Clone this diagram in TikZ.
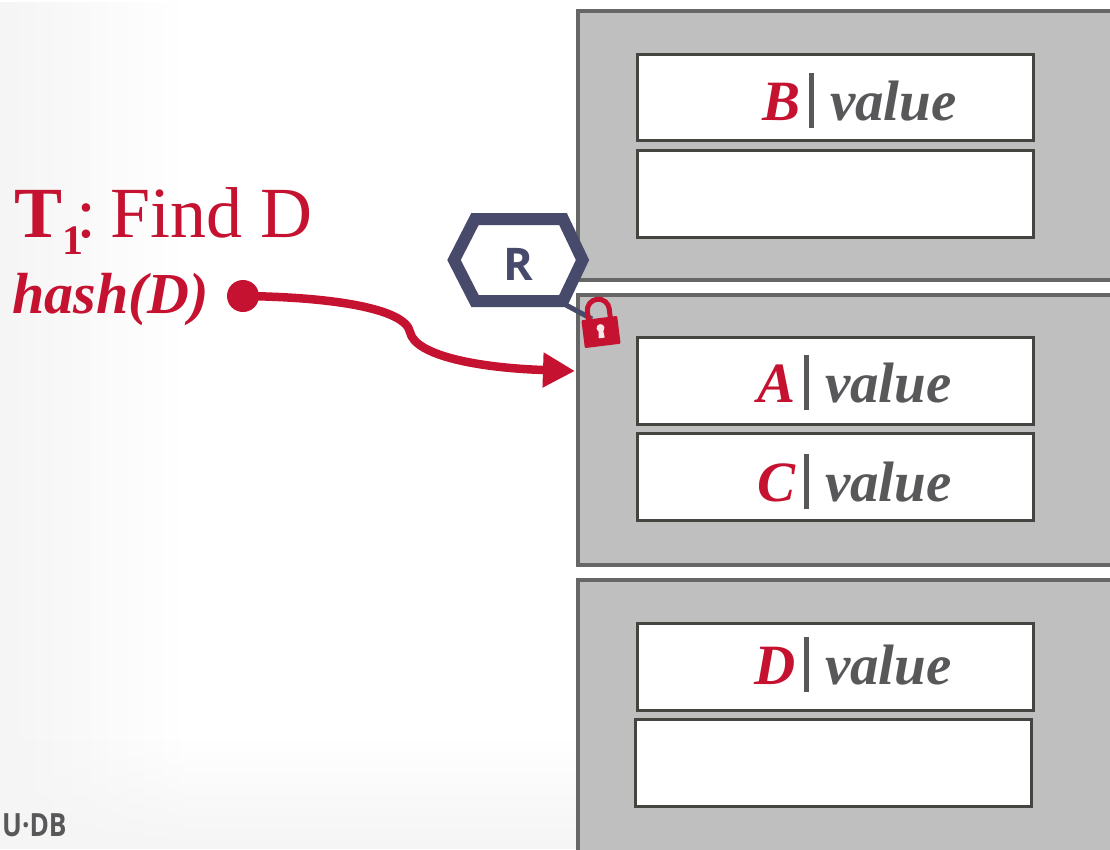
\documentclass[tikz,border=0pt]{standalone}
\usepackage{fontspec}
\setmainfont{Liberation Serif}
\newfontfamily\uifont{Open Sans}
\usetikzlibrary{arrows.meta,fadings}
\definecolor{cmured}{HTML}{C41230}
\definecolor{navy}{HTML}{474A6B}
\definecolor{txtgrey}{HTML}{58585A}
\definecolor{pagefill}{HTML}{BFBFBF}
\definecolor{pageline}{HTML}{666666}
\definecolor{slotline}{HTML}{444440}
\definecolor{bgtint}{HTML}{F5F5F5}
\newcommand{\kvtext}[1]{{\color{cmured}#1}\hspace{9pt}{\color{txtgrey}\rule[-8pt]{5pt}{55pt}\hspace{16pt}value}}
\tikzset{
  pagebox/.style={draw=pageline,line width=4pt,fill=pagefill},
  slotbox/.style={draw=slotline,line width=3pt,fill=white},
  kvlabel/.style={anchor=base east,inner sep=0pt,font=\fontsize{57}{60}\selectfont\bfseries\itshape},
  hexline/.style={draw=navy,line width=12pt,line join=miter,fill=white},
  redtext/.style={text=cmured,inner sep=0pt},
}
\begin{document}
\begin{tikzpicture}[x=1pt,y=-1pt]
\useasboundingbox (0,0) rectangle (1110,849);
\clip (0,0) rectangle (1110,849);
% background
\fill[white] (0,0) rectangle (1110,849);
\fill[bgtint,path fading=east] (0,0) rectangle (180,849);
\fill[bgtint,path fading=north] (0,740) rectangle (578,849);
% pages
\draw[pagebox] (578,11) rectangle (1130,280);
\draw[pagebox] (578,295) rectangle (1130,565);
\draw[pagebox] (578,580) rectangle (1130,870);
% slots
\draw[slotbox] (637,54) rectangle (1033,140);
\draw[slotbox] (637,150) rectangle (1033,237);
\draw[slotbox] (637,337) rectangle (1033,424);
\draw[slotbox] (637,433) rectangle (1033,520);
\draw[slotbox] (637,623) rectangle (1033,710);
\draw[slotbox] (635,719) rectangle (1031,806);
% key-value labels
\node[kvlabel] (kvB) at (957,120) {\kvtext{B}};
\node[kvlabel] (kvA) at (952,402) {\kvtext{A}};
\node[kvlabel] (kvC) at (952,501) {\kvtext{C}};
\node[kvlabel] (kvD) at (952,684) {\kvtext{D}};
% left text
\node[redtext,anchor=base west] (find) at (14,237) {\fontsize{72}{76}\selectfont\textbf{T\raisebox{-17pt}{\fontsize{42}{44}\selectfont 1}}\hspace{-7pt}:\hspace{14pt}Find D};
\node[redtext,anchor=base west] (hash) at (12,313) {\fontsize{58}{60}\selectfont\bfseries\itshape hash(D)};
\node[circle,fill=cmured,inner sep=0pt,minimum size=32pt] (dot) at (243,296) {};
% latch connector (behind lock)
\coordinate (hexfoot) at (566,305);
\coordinate (lockpt) at (592,319);
\draw[navy,line width=5pt] (hexfoot) -- (lockpt);
% latch hexagon
\draw[hexline] (454,260) -- (475,219) -- (563,219) -- (582.5,260) -- (563,301) -- (475,301) -- cycle;
\node[text=navy,inner sep=0pt,font=\uifont\bfseries\fontsize{45}{48}\selectfont] (R) at (518,264) {R};
% lock
\begin{scope}[shift={(601,332)},rotate=7]
  \draw[cmured,line width=5pt] (-11,-12) -- (-11,-22) arc[start angle=180,end angle=360,radius=11] -- (11,-12);
  \fill[cmured,rounded corners=1pt] (-18,-14) rectangle (18,14);
  \fill[white!90!cmured] (0,-4) circle[radius=4];
  \fill[white!90!cmured] (-2.2,-3) -- (2.2,-3) -- (3,6) -- (-3,6) -- cycle;
\end{scope}
% arrow
\coordinate (target) at (575,371);
\draw[cmured,line width=8.5pt,-{Triangle[length=32pt,width=33pt]}] (dot.center) .. controls (330,297) and (405,308) .. (410,332) .. controls (415,356) and (480,368) .. (target);
% logo
\node[anchor=base west,inner sep=0pt,text=txtgrey,font=\uifont\bfseries\fontsize{32}{34}\selectfont] (logo) at (2,836) {\scalebox{0.82}[1]{U·DB}};
\end{tikzpicture}
\end{document}
